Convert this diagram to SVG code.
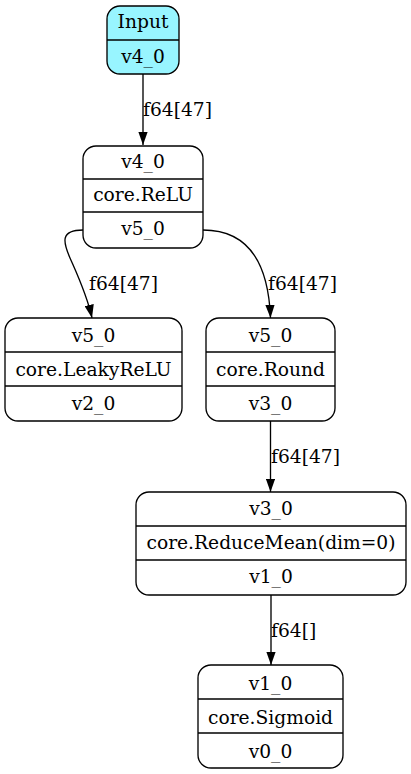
<svg xmlns="http://www.w3.org/2000/svg" width="411" height="774" viewBox="0 0 411 774">
<style>
text{font-family:"DejaVu Serif","Liberation Serif",serif;font-size:18.67px;fill:#000}
.c{text-anchor:middle}
.box{fill:#fff;stroke:#000;stroke-width:1.33}
.in{fill:#98f5ff;stroke:#000;stroke-width:1.33}
.div{stroke:#000;stroke-width:1.33}
.e{fill:none;stroke:#000;stroke-width:1.33}
</style>
<defs>
<marker id="ah" viewBox="0 0 13.3 9.4" refX="13.3" refY="4.7" markerWidth="13.3" markerHeight="9.4" markerUnits="userSpaceOnUse" orient="auto">
<path d="M0,0 L13.3,4.7 L0,9.4 z" fill="#000"/>
</marker>
</defs>
<rect width="411" height="774" fill="#fff"/>
<g id="edges">
<path class="e" d="M143,74 L143,145" marker-end="url(#ah)"/>
<text x="143" y="116">f64[47]</text>
<path class="e" d="M83,230 C60,230 63,242 70,258 C77,274 87,295 92,318" marker-end="url(#ah)"/>
<text x="89" y="290">f64[47]</text>
<path class="e" d="M203,230 C240,230 268,252 270.5,318" marker-end="url(#ah)"/>
<text x="268" y="290">f64[47]</text>
<path class="e" d="M270.5,421 L270.5,492" marker-end="url(#ah)"/>
<text x="271" y="463">f64[47]</text>
<path class="e" d="M271,595 L271,665" marker-end="url(#ah)"/>
<text x="271" y="637">f64[]</text>
</g>
<g id="input">
<rect class="in" x="107" y="6" width="72" height="68" rx="13"/>
<line class="div" x1="107" y1="40" x2="179" y2="40"/>
<text class="c" x="143" y="28">Input</text>
<text class="c" x="143" y="63">v4_0</text>
</g>
<g id="relu">
<rect class="box" x="83" y="146" width="120" height="102" rx="13"/>
<line class="div" x1="83" y1="179" x2="203" y2="179"/>
<line class="div" x1="83" y1="212" x2="203" y2="212"/>
<text class="c" x="143" y="168">v4_0</text>
<text class="c" x="143" y="201">core.ReLU</text>
<text class="c" x="143" y="235">v5_0</text>
</g>
<g id="leakyrelu">
<rect class="box" x="5" y="318" width="177" height="103" rx="13"/>
<line class="div" x1="5" y1="352" x2="182" y2="352"/>
<line class="div" x1="5" y1="386" x2="182" y2="386"/>
<text class="c" x="93.5" y="342">v5_0</text>
<text class="c" x="93.5" y="376">core.LeakyReLU</text>
<text class="c" x="93.5" y="410">v2_0</text>
</g>
<g id="round">
<rect class="box" x="206" y="318" width="129" height="103" rx="13"/>
<line class="div" x1="206" y1="352" x2="335" y2="352"/>
<line class="div" x1="206" y1="386" x2="335" y2="386"/>
<text class="c" x="270.5" y="342">v5_0</text>
<text class="c" x="270.5" y="376">core.Round</text>
<text class="c" x="270.5" y="410">v3_0</text>
</g>
<g id="reducemean">
<rect class="box" x="136" y="492" width="270" height="103" rx="13"/>
<line class="div" x1="136" y1="526" x2="406" y2="526"/>
<line class="div" x1="136" y1="560" x2="406" y2="560"/>
<text class="c" x="271" y="515">v3_0</text>
<text class="c" x="271" y="549">core.ReduceMean(dim=0)</text>
<text class="c" x="271" y="583">v1_0</text>
</g>
<g id="sigmoid">
<rect class="box" x="198" y="665" width="145" height="103" rx="13"/>
<line class="div" x1="198" y1="699" x2="343" y2="699"/>
<line class="div" x1="198" y1="733" x2="343" y2="733"/>
<text class="c" x="270.5" y="690">v1_0</text>
<text class="c" x="270.5" y="724">core.Sigmoid</text>
<text class="c" x="270.5" y="758">v0_0</text>
</g>
</svg>
